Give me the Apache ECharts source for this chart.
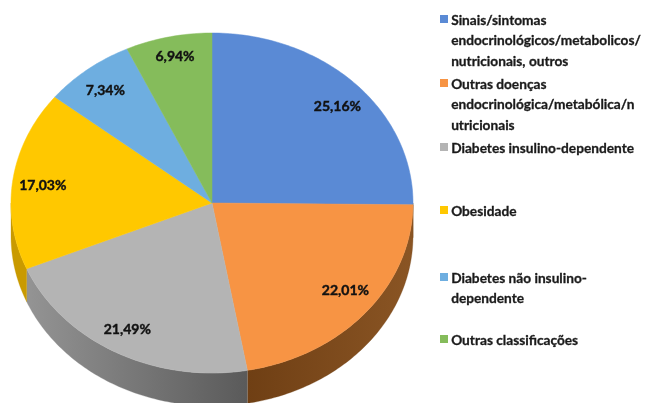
<!DOCTYPE html>
<html>
<head>
<meta charset="utf-8">
<style>
  html, body { margin: 0; padding: 0; background: #fff; }
  #chart { width: 645px; height: 403px; filter: blur(0.5px); }
</style>
<script src="https://cdn.jsdelivr.net/npm/echarts@6/dist/echarts.min.js"></script>
</head>
<body>
<div id="chart"></div>
<script>
const categories = [
  'Sinais/sintomas\nendocrinológicos/metabolicos/\nnutricionais, outros',
  'Outras doenças\nendocrinológica/metabólica/n\nutricionais',
  'Diabetes insulino-dependente',
  'Obesidade',
  'Diabetes não insulino-\ndependente',
  'Outras classificações',
]
const values = [25.16, 22.01, 21.49, 17.03, 7.34, 6.94]

const topColors = ['#5a8ad5', '#f79444', '#b4b4b4', '#ffc800', '#6eaee0', '#85bc5b']
const sideColors = [
  ['#7a4a1c', '#7a4a1c'],
  ['#6f3f14', '#8a5524'],
  ['#949494', '#5a5a5a'],
  ['#c99a00', '#c99a00'],
  ['#555', '#555'],
  ['#555', '#555'],
]
// label nudges in px, the source chart placed these by hand
const labelNudge = [[4, 5], [3, -6], [-3, 0], [0, 2], [-1, 1], [0, -5]]
const legendTops = [12, 76, 140, 203, 270, 332]

const total = values.reduce((a, b) => a + b, 0)
const depth = 0.194
const labelRadius = 0.85

// angle in degrees clockwise from 12 o'clock
const point = (deg, r, drop) => {
  const a = deg * Math.PI / 180
  return [r * Math.sin(a), r * Math.cos(a) - drop]
}

function arc(api, from, to, r, drop) {
  const pts = []
  const steps = Math.max(2, Math.ceil(to - from))
  for (let i = 0; i <= steps; i++) {
    pts.push(api.coord(point(from + (to - from) * i / steps, r, drop)))
  }
  return pts
}

function renderSlice(params, api) {
  const i = params.dataIndex
  const before = values.slice(0, i).reduce((a, b) => a + b, 0)
  const start = before / total * 360
  const end = start + api.value(0) / total * 360
  const children = []

  // side wall, only the front half of the disc shows one
  const sideFrom = Math.max(start, 90)
  const sideTo = Math.min(end, 270)
  if (sideTo > sideFrom) {
    const upper = arc(api, sideFrom, sideTo, 1, 0)
    const lower = arc(api, sideFrom, sideTo, 1, depth).reverse()
    const [c0, c1] = sideColors[i]
    const fill = new echarts.graphic.LinearGradient(0, 0, 1, 0, [
      { offset: 0, color: c0 },
      { offset: 1, color: c1 },
    ])
    children.push({
      type: 'polygon',
      shape: { points: upper.concat(lower) },
      style: { fill, stroke: c0, lineWidth: 0.3 },
    })
  }

  const face = [api.coord([0, 0])].concat(arc(api, start, end, 1, 0))
  children.push({
    type: 'polygon',
    shape: { points: face },
    style: { fill: topColors[i], stroke: topColors[i], lineWidth: 0.5 },
  })

  const at = api.coord(point((start + end) / 2, labelRadius, 0))
  children.push({
    type: 'text',
    z2: 10,
    style: {
      text: api.value(0).toFixed(2).replace('.', ',') + '%',
      x: at[0] + labelNudge[i][0],
      y: at[1] + labelNudge[i][1],
      align: 'center',
      verticalAlign: 'middle',
      fill: '#111',
      stroke: '#111',
      lineWidth: 0.4,
      font: 'bold 14px Lato',
    },
  })
  return { type: 'group', children }
}

const legendItems = categories.flatMap((name, i) => [
  {
    type: 'rect',
    left: 440,
    top: legendTops[i] + 3,
    shape: { width: 8, height: 8 },
    style: { fill: topColors[i] },
  },
  {
    type: 'text',
    left: 451,
    top: legendTops[i] - 2,
    style: {
      text: name,
      fill: '#1a1a1a',
      stroke: '#1a1a1a',
      lineWidth: 0.3,
      font: 'bold 13.7px Lato',
      lineHeight: 20.6,
    },
  },
])

const chart = echarts.init(document.getElementById('chart'), null, { renderer: 'canvas' })
chart.setOption({
  animation: false,
  backgroundColor: '#fff',
  grid: { left: 11, top: 33, width: 402, height: 340 },
  xAxis: { type: 'value', min: -1, max: 1, show: false },
  yAxis: { type: 'value', min: -1, max: 1, show: false },
  graphic: legendItems,
  series: [{
    type: 'custom',
    clip: false,
    coordinateSystem: 'cartesian2d',
    data: values.map((v) => [v]),
    encode: { x: [], y: [] },
    renderItem: renderSlice,
  }],
})
</script>
</body>
</html>
